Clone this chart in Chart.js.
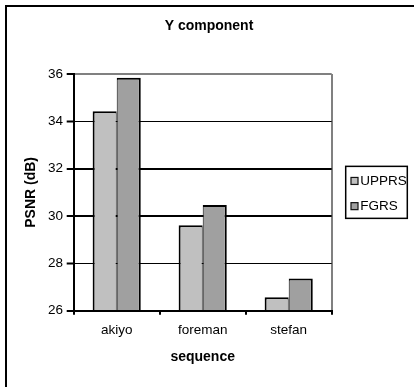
<!DOCTYPE html>
<html>
<head>
<meta charset="utf-8">
<script src="https://cdn.jsdelivr.net/npm/chart.js@4/dist/chart.umd.min.js"></script>
<style>
  html, body { margin: 0; padding: 0; background: #fff; overflow: hidden; width: 414px; height: 387px; }
  .frame { position: absolute; left: 5px; top: 5px; width: 430px; height: 400px; border: 2px solid #000; box-sizing: border-box; }
  #chart { position: absolute; left: 2px; top: 0; }
</style>
</head>
<body>
<div class="frame"></div>
<canvas id="chart" width="414" height="387"></canvas>
<script>
// PSNR of the Y component per test sequence
const sequences = ['akiyo', 'foreman', 'stefan']
const upprs = [34.43, 29.61, 26.57]
const fgrs = [35.84, 30.47, 27.36]
const yTicks = { min: 26, max: 36, step: 2 }

const FONT = "'Liberation Sans', Arial, sans-serif"
Chart.defaults.font.family = FONT
Chart.defaults.color = '#000'

// Boxed legend on the right. Registered as its own layout box so it takes
// space from the plot without narrowing the full-width title.
const boxLegend = {
  id: 'boxLegend',
  beforeInit(chart) {
    const box = {
      position: 'right', weight: 1000, fullSize: false, options: {},
      isHorizontal: () => false,
      update(maxWidth, maxHeight) { this.width = 84.3; this.height = maxHeight },
      draw() {
        const { ctx, chartArea } = chart
        const w = 61.6, h = 52
        const x = this.left + 14
        const y = (chartArea.top + chartArea.bottom) / 2 - h / 2
        ctx.save()
        ctx.lineWidth = 1.5
        ctx.strokeStyle = '#000'
        ctx.strokeRect(x, y, w, h)
        ctx.font = '13.5px ' + FONT
        ctx.textBaseline = 'middle'
        chart.data.datasets.forEach((ds, i) => {
          const cy = y + 14.6 + i * 25.2
          ctx.fillStyle = ds.backgroundColor
          ctx.fillRect(x + 5.3, cy - 3.5, 7, 7)
          ctx.lineWidth = 1.2
          ctx.strokeStyle = '#111'
          ctx.strokeRect(x + 5.3, cy - 3.5, 7, 7)
          ctx.fillStyle = '#000'
          ctx.fillText(ds.label, x + 14.6, cy + 0.5)
        })
        ctx.restore()
      },
    }
    Chart.layouts.addBox(chart, box)
  },
}

new Chart(document.getElementById('chart'), {
  type: 'bar',
  data: {
    labels: sequences,
    datasets: [
      {
        label: 'UPPRS', data: upprs,
        backgroundColor: '#c0c0c0', borderColor: '#000',
        borderWidth: { top: 2, left: 2, right: 1, bottom: 0 },
      },
      {
        label: 'FGRS', data: fgrs,
        backgroundColor: '#a0a0a0', borderColor: '#000',
        borderWidth: { top: 2, left: 1, right: 2, bottom: 0 },
      },
    ],
  },
  options: {
    responsive: false,
    animation: false,
    devicePixelRatio: 1,
    categoryPercentage: 0.56,
    barPercentage: 1,
    layout: { padding: { left: 0, right: 0, top: 0, bottom: 12.3 } },
    plugins: {
      legend: { display: false },
      tooltip: { enabled: false },
      title: {
        display: true, text: 'Y component', color: '#000',
        font: { size: 14, weight: 'bold' },
        padding: { top: 17.6, bottom: 39.6 },
      },
    },
    scales: {
      x: {
        afterFit: s => { s.height = 64 },
        grid: {
          offset: true,
          color: c => c.index === undefined ? '#808080' : 'rgba(0,0,0,0)',
          lineWidth: 2, tickColor: '#000', tickLength: 4, tickWidth: 2,
        },
        border: { color: '#000', width: 2, z: 1 },
        ticks: { color: '#000', font: { size: 13.5 }, padding: 7.2 },
        title: {
          display: true, text: 'sequence', color: '#000',
          font: { size: 14, weight: 'bold' }, padding: { top: 0, bottom: 9.3 },
        },
      },
      y: {
        min: yTicks.min, max: yTicks.max,
        afterFit: s => { s.width = 71.7 },
        grid: {
          color: c => c.tick && c.tick.value === yTicks.max ? '#808080' : '#000',
          lineWidth: c => [36, 32, 30, 26].includes(c.tick && c.tick.value) ? 2 : 1,
          tickColor: '#000', tickLength: 7, tickWidth: 2,
        },
        border: { color: '#000', width: 2, z: 1 },
        ticks: { stepSize: yTicks.step, color: '#000', font: { size: 13.5 }, padding: 3.7 },
        title: {
          display: true, text: 'PSNR (dB)', color: '#000',
          font: { size: 14, weight: 'bold' }, padding: { top: 20.6, bottom: 0 },
        },
      },
    },
  },
  plugins: [boxLegend],
})
</script>
</body>
</html>
